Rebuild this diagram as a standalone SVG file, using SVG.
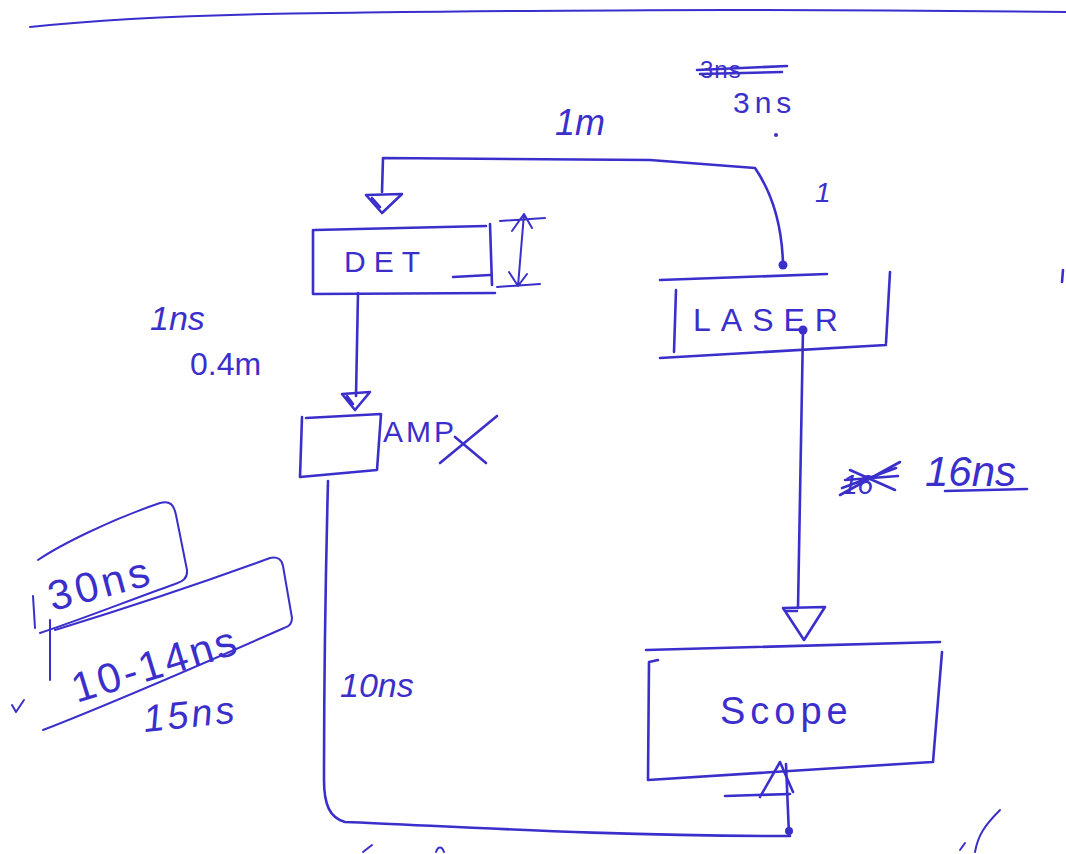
<svg xmlns="http://www.w3.org/2000/svg" width="1066" height="854" viewBox="0 0 1066 854">
<defs>
<style>
.ink{fill:none;stroke:#3b2fcc;stroke-width:2.6;stroke-linecap:round;stroke-linejoin:round}
.thin{fill:none;stroke:#3b2fcc;stroke-width:2;stroke-linecap:round;stroke-linejoin:round}
.dot{fill:#3b2fcc}
.t{font-family:"Liberation Sans","DejaVu Sans",sans-serif;fill:#3b2fcc;font-weight:normal}
</style>
</defs>
<rect width="1066" height="854" fill="#ffffff"/>
<!-- top rule -->
<path class="thin" d="M30 27 C120 17 220 14 330 13 C500 11 700 8 1066 12"/>
<g id="connectors">
<!-- laser top to DET -->
<circle class="dot" cx="783" cy="265" r="4.5"/>
<path class="ink" d="M783 265 C782 220 770 190 755 168 L650 160 L383 158 L382 192"/>
<path class="ink" d="M366 195 L402 194 L382 213 Z M372 198 L380 207"/>
<!-- DET to AMP -->
<path class="ink" d="M358 293 L356 396"/>
<path class="ink" d="M342 394 L370 392 L355 410 Z M347 396 L353 404"/>
<!-- AMP to Scope bottom -->
<path class="ink" d="M328 481 C326 560 324 680 324 780 C324 805 330 818 345 822 C450 826 600 836 790 836"/>
<circle class="dot" cx="789" cy="831" r="4"/>
<path class="ink" d="M789 835 L786 764"/>
<path class="ink" d="M760 797 L780 762 L793 792 M725 796 L790 794"/>
<!-- LASER to Scope -->
<circle class="dot" cx="803" cy="330" r="4.5"/>
<path class="ink" d="M803 330 L798 608"/>
<path class="ink" d="M783 608 L825 607 L804 640 Z M785 611 L797 611"/>
</g>
<g id="DET">
<path class="ink" d="M313 230 L313 294 L495 293 M315 230 L486 226 M490 224 L492 285 M453 277 L490 275"/>
<text class="t" x="344" y="272" font-size="30" letter-spacing="8">DET</text>
<path class="thin" d="M500 221 L545 218 M497 287 L540 284 M524 214 L518 286 M512 231 L524 214 L532 228 M509 272 L518 286 L527 274"/>
</g>
<g id="AMP">
<path class="ink" d="M302 417 L300 477 L377 470 L381 414 L306 418"/>
<text class="t" x="383" y="442" font-size="30" letter-spacing="3">AMP</text>
<path class="ink" d="M440 463 L497 416 M455 437 L486 463"/>
</g>
<g id="LASER">
<path class="ink" d="M660 280 L827 274 M676 290 L674 352 M660 358 L886 345 M890 272 L886 343"/>
<text class="t" x="693" y="331" font-size="32" letter-spacing="10">LASER</text>
</g>
<g id="Scope">
<path class="ink" d="M646 650 L940 642 M658 660 L649 662 L648 780 L932 762 M942 652 L933 762"/>
<text class="t" x="720" y="724" font-size="38" letter-spacing="5">Scope</text>
</g>
<g id="labels">
<text class="t" x="555" y="135" font-size="36" font-style="italic">1m</text>
<text class="t" x="733" y="113" font-size="30" letter-spacing="5">3ns</text>
<text class="t" x="700" y="78" font-size="24" letter-spacing="1">3ns</text>
<path class="ink" d="M697 70 L787 66 M700 74 L782 72"/>
<circle class="dot" cx="776" cy="135" r="2"/>
<text class="t" x="815" y="202" font-size="28" font-style="italic">1</text>
<text class="t" x="150" y="330" font-size="34" font-style="italic">1ns</text>
<text class="t" x="190" y="375" font-size="32">0.4m</text>
<text class="t" x="925" y="486" font-size="42" font-style="italic">16ns</text>
<path class="ink" d="M945 491 L1027 489"/>
<text class="t" x="842" y="494" font-size="28" font-style="italic">16</text>
<path class="ink" d="M840 495 L900 462 M845 480 L898 476 M842 488 L896 468 M850 470 L895 490"/>
<text class="t" x="340" y="697" font-size="34" font-style="italic">10ns</text>
<g transform="rotate(-15 100 580)">
<text class="t" x="46" y="598" font-size="42" letter-spacing="4">30ns</text>
</g>
<path class="thin" d="M33 596 L35 628 M38 560 C60 545 110 520 160 503 C170 500 174 505 176 515 L187 570 C188 580 180 582 175 584 C130 600 80 620 40 633"/>
<g transform="rotate(-17 160 640)">
<text class="t" x="62" y="676" font-size="42" letter-spacing="3">10-14ns</text>
</g>
<path class="thin" d="M50 620 L50 680 M55 630 C120 610 210 580 270 558 C278 556 282 560 283 566 L292 618 C292 624 288 627 284 628 C200 665 120 700 43 730"/>
<path class="thin" d="M12 705 L16 712 L24 700"/>
<g transform="rotate(-6 200 705)">
<text class="t" x="142" y="726" font-size="38" font-style="italic" letter-spacing="3">15ns</text>
</g>
<path class="thin" d="M363 852 L372 845 M436 852 C438 846 442 846 444 852"/>
<path class="thin" d="M975 852 C978 835 985 825 1000 810 M960 850 L965 843"/>
<path class="ink" d="M1063 270 L1062 282"/>
</g>
</svg>
